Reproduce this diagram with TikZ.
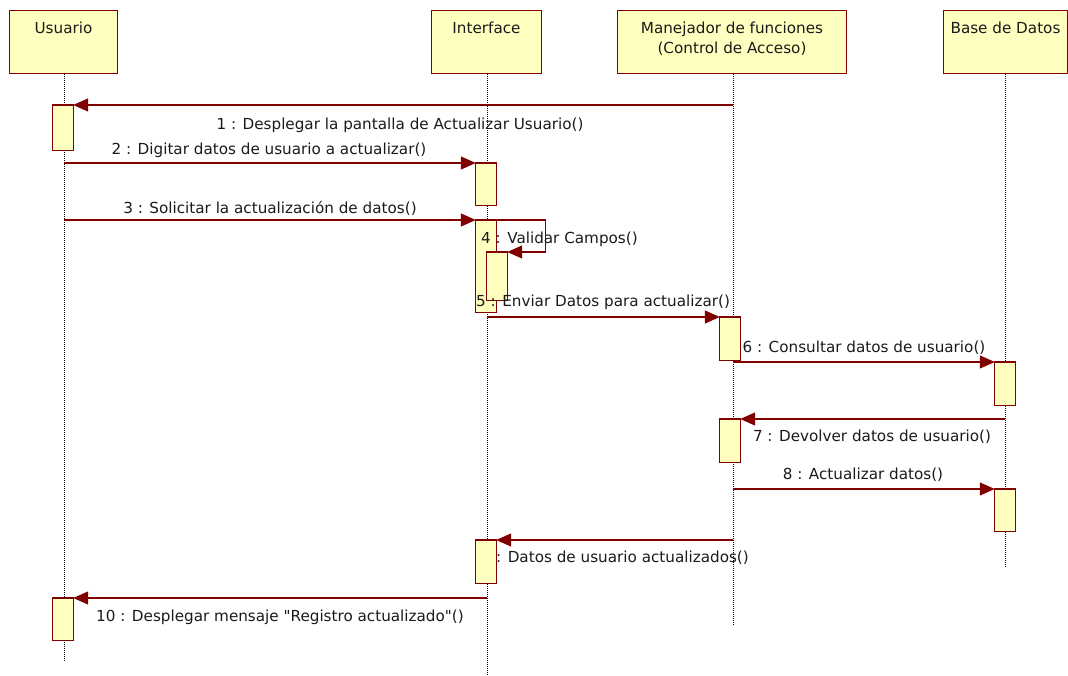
\documentclass[tikz,border=0pt]{standalone}
\usepackage{fontspec}
\setmainfont{DejaVu Sans}[Ligatures=TeXOff]
\usetikzlibrary{arrows.meta}
\definecolor{umlred}{HTML}{800000}
\definecolor{umlfill}{HTML}{FFFFC0}
\definecolor{txt}{HTML}{1A1A1A}
\tikzset{
  hdr/.style={draw=umlred, fill=umlfill, line width=1.3pt, minimum height=63pt, anchor=north, inner sep=0pt},
  hdrtext/.style={anchor=north, align=center, text=txt, font=\fontsize{15.2}{20}\selectfont, inner sep=0pt},
  act/.style={minimum width=20pt, anchor=north, inner sep=0pt},
  actbox/.style={draw=umlred, fill=umlfill, line width=1.3pt},
  life/.style={draw=black, line width=0.8pt, dash pattern=on 1pt off 1pt},
  msg/.style={draw=umlred, line width=1.2pt, -{Triangle[length=15pt, width=13pt]}},
  lbl/.style={text=txt, font=\fontsize{15.2}{16}\selectfont, inner sep=0pt}
}
\begin{document}
\begin{tikzpicture}[x=1pt,y=-1pt]
\useasboundingbox (0,0) rectangle (1068,676);
% headers
\node[hdr, minimum width=108pt] (U) at (63.5,10) {};
\node[hdrtext] (Ut) at ([yshift=-12pt]U.north) {Usuario};
\node[hdr, minimum width=110pt] (I) at (486.5,10) {};
\node[hdrtext] (It) at ([yshift=-12pt]I.north) {Interface};
\node[hdr, minimum width=229pt] (M) at (732,10) {};
\node[hdrtext] (Mt) at ([yshift=-12pt]M.north) {Manejador de funciones\\(Control de Acceso)};
\node[hdr, minimum width=124pt] (B) at (1005.5,10) {};
\node[hdrtext] (Bt) at ([yshift=-12pt]B.north) {Base de Datos};
% lifeline ends
\coordinate (Ue) at (64,662);
\coordinate (Ie) at (487,676);
\coordinate (Me) at (733,625);
\coordinate (Be) at (1005,567);
\draw[life] (U.south -| Ue) -- (Ue);
\draw[life] (I.south -| Ie) -- (Ie);
\draw[life] (M.south -| Me) -- (Me);
\draw[life] (B.south -| Be) -- (Be);
% activations (placed; drawn later)
\path (63,105) node[act, minimum height=45pt] (aU1) {};
\path (486,163) node[act, minimum height=42pt] (aI1) {};
\path (486,220) node[act, minimum height=92pt] (aI2) {};
\path (497,252) node[act, minimum height=48pt] (aI3) {};
\path (730,317) node[act, minimum height=43pt] (aM1) {};
\path (1005,362) node[act, minimum height=43pt] (aB1) {};
\path (730,419) node[act, minimum height=43pt] (aM2) {};
\path (1005,489) node[act, minimum height=42pt] (aB2) {};
\path (486,540) node[act, minimum height=43pt] (aI4) {};
\path (63,598) node[act, minimum height=42pt] (aU2) {};
% messages
\draw[msg] (aU1.north -| Me) -- (aU1.north east);
\draw[msg] (aI1.north -| Ue) -- (aI1.north west);
\draw[msg] (aI2.north -| Ue) -- (aI2.north west);
\draw[msg] (aI2.north east) -- ++(49,0) |- (aI3.north east);
\draw[msg] (aM1.north -| Ie) -- (aM1.north west);
\draw[msg] (aB1.north -| Me) -- (aB1.north west);
\draw[msg] (aM2.north -| Be) -- (aM2.north east);
\draw[msg] (aB2.north -| Me) -- (aB2.north west);
\draw[msg] (aI4.north -| Me) -- (aI4.north east);
\draw[msg] (aU2.north -| Ie) -- (aU2.north east);
\node[lbl, anchor=east] (l9) at (749,558) {9 : Datos de usuario actualizados()};
% activation boxes
\foreach \a in {aU1,aI1,aI2,aI3,aM1,aB1,aM2,aB2,aI4,aU2}{
  \draw[actbox] (\a.north west) rectangle (\a.south east);
}
% labels
\node[lbl] (l1) at (400,125) {1 : Desplegar la pantalla de Actualizar Usuario()};
\node[lbl] (l2) at (269,150) {2 : Digitar datos de usuario a actualizar()};
\node[lbl] (l3) at (270,208) {3 : Solicitar la actualización de datos()};
\node[lbl, anchor=west] (l4) at (481,239) {4 : Validar Campos()};
\node[lbl, anchor=west] (l5) at (476,302) {5 : Enviar Datos para actualizar()};
\node[lbl] (l6) at (864,348) {6 : Consultar datos de usuario()};
\node[lbl] (l7) at (872,437) {7 : Devolver datos de usuario()};
\node[lbl] (l8) at (863,475) {8 : Actualizar datos()};
\node[lbl] (l10) at (280,617) {10 : Desplegar mensaje "Registro actualizado"()};
\end{tikzpicture}
\end{document}
